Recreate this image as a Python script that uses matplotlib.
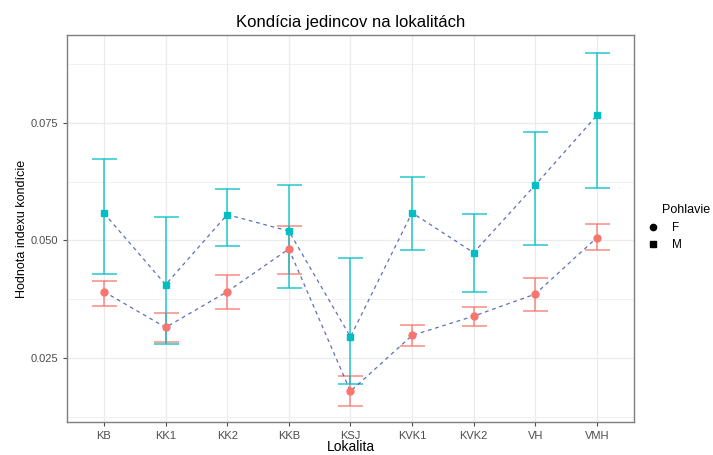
import matplotlib
matplotlib.use("Agg")
import matplotlib.pyplot as plt
from matplotlib.lines import Line2D
from matplotlib.ticker import FixedLocator

plt.rcParams["font.family"] = ["Liberation Sans", "DejaVu Sans"]

sites = ["KB", "KK1", "KK2", "KKB", "KSJ", "KVK1", "KVK2", "VH", "VMH"]

f_mean = [0.0391, 0.0315, 0.0391, 0.0482, 0.0179, 0.0298, 0.0339, 0.0386, 0.0506]
f_low = [0.0360, 0.0283, 0.0355, 0.0429, 0.0148, 0.0275, 0.0318, 0.0351, 0.0479]
f_high = [0.0414, 0.0345, 0.0426, 0.0530, 0.0211, 0.0320, 0.0358, 0.0421, 0.0535]

m_mean = [0.0558, 0.0406, 0.0555, 0.0520, 0.0295, 0.0559, 0.0474, 0.0618, 0.0766]
m_low = [0.0429, 0.0279, 0.0489, 0.0398, 0.0195, 0.0479, 0.0391, 0.0491, 0.0612]
m_high = [0.0674, 0.0550, 0.0609, 0.0619, 0.0462, 0.0636, 0.0557, 0.0731, 0.0899]

F_COL = "#F8766D"
M_COL = "#00BFC4"
LINE_COL = "#4455AA"

fig = plt.figure(figsize=(7.13, 4.55), dpi=100)
ax = fig.add_axes([0.094, 0.0725, 0.795, 0.8505])

x = list(range(1, len(sites) + 1))


def errbars(mean, low, high, color, marker, ms):
    yerr = [[m - l for m, l in zip(mean, low)], [h - m for m, h in zip(mean, high)]]
    ax.errorbar(x, mean, yerr=yerr, fmt="none", ecolor=color, elinewidth=1.1,
                capsize=9, capthick=1.1, alpha=0.85, zorder=3)
    ax.plot(x, mean, linestyle=(0, (3, 3)), color=LINE_COL, lw=0.9,
            alpha=0.85, zorder=4)
    ax.plot(x, mean, linestyle="none", marker=marker, ms=ms, color=color,
            zorder=5)


errbars(f_mean, f_low, f_high, F_COL, "o", 5)
errbars(m_mean, m_low, m_high, M_COL, "s", 5)

ax.set_xlim(0.4, 9.6)
ax.set_ylim(0.01138, 0.0937)
ax.set_xticks(x)
ax.set_xticklabels(sites)
ax.set_yticks([0.025, 0.050, 0.075])
ax.set_yticklabels(["0.025", "0.050", "0.075"])
ax.yaxis.set_minor_locator(FixedLocator([0.0125, 0.0375, 0.0625, 0.0875]))
ax.tick_params(axis="both", which="major", labelsize=8, colors="#4D4D4D",
               length=3, width=0.8)
ax.tick_params(axis="y", which="minor", length=0)
ax.grid(True, which="major", color="#EBEBEB", lw=0.9, zorder=0)
ax.grid(True, which="minor", axis="y", color="#EBEBEB", lw=0.5, zorder=0)
ax.set_axisbelow(True)
for sp in ax.spines.values():
    sp.set_color("#7F7F7F")
    sp.set_linewidth(1.0)

ax.set_title("Kondícia jedincov na lokalitách", fontsize=12, pad=6)
ax.set_xlabel("Lokalita", fontsize=10, labelpad=-1)
ax.set_ylabel("Hodnota indexu kondície", fontsize=9)
ax.yaxis.set_label_coords(-0.069, 0.5)

handles = [
    Line2D([], [], linestyle="none", marker="o", ms=4.5, color="black", label="F"),
    Line2D([], [], linestyle="none", marker="s", ms=4.5, color="black", label="M"),
]
fig.text(662 / 713, 1 - 210 / 455, "Pohlavie", fontsize=9, va="center")
fig.legend(handles=handles, loc="upper left",
           bbox_to_anchor=(645 / 713, 1 - 222 / 455), frameon=False,
           fontsize=8.5, handletextpad=0.9, labelspacing=0.45,
           borderpad=0, borderaxespad=0, handlelength=1.4)

fig.savefig("out.png", dpi=100)
